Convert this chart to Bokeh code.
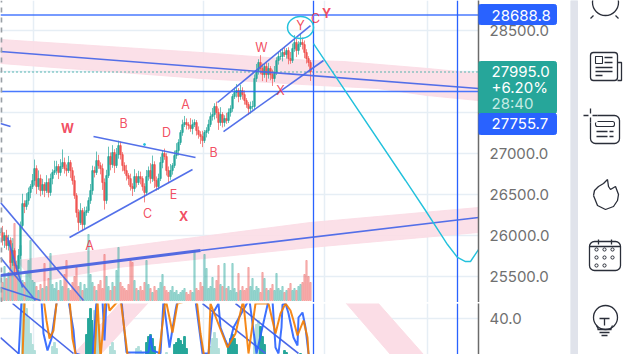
from bokeh.plotting import figure
from bokeh.layouts import row, column
from bokeh.models import Range1d, FixedTicker, PrintfTickFormatter
from bokeh.core.properties import value
from bokeh.embed import file_html
from bokeh.resources import INLINE

FONT = "Inter"
first_index = 0
close = [26037,25938,25999,25877,25938,25670,25816,25633,25596,25755,26121,26389,26353,26426,26524,26597,26670,26816,26597,26694,26548,26621,26548,26646,
26524,26694,26768,26792,26841,26768,26841,26890,26816,26792,26890,26792,26670,26487,26280,26158,26304,26133,26280,26304,
26426,26548,26792,26768,26914,26853,26816,26646,26426,26731,26963,26865,27012,26853,26987,27097,26987,26853,26792,26731,
26694,26597,26572,26719,26646,26719,26694,26597,26524,26719,26792,26694,26865,26670,26597,26694,26890,27000,26963,26792,
26719,26792,26853,26975,27036,27134,27256,27353,27378,27353,27341,27304,27353,27378,27280,27231,27207,27158,27256,27280,
27353,27451,27475,27573,27500,27378,27475,27378,27426,27402,27500,27548,27695,27744,27768,27695,27768,27719,27646,27597,
27548,27573,27573,27914,28012,28110,28036,27963,28061,27963,28036,27963,27914,27987,28134,28183,28183,28232,28207,28256,
28158,28134,28280,28354,28256,28329,28354,28329,28232,28158,28110,27995]
wick_up = [50,80,40,70,70,40,90,30,60,80,50,120,40,90,60,30,80,110,40,100,50,70,30,90,50,60,40,120,70,30,90,160,60,50,80,30,40,60,30,40,90,30,70,50,
40,80,60,50,110,70,40,60,50,70,120,50,90,40,80,60,50,30,40,70,30,60,40,90,40,70,60,30,40,80,50,90,110,40,50,60,70,30,60,40,
50,80,30,60,90,40,30,60,80,50,30,90,60,40,30,50,40,70,30,40,60,50,80,40,60,50,90,30,40,70,50,40,30,60,80,30,70,40,50,30,
30,60,70,50,80,40,90,60,40,50,70,30,60,80,40,60,90,50,70,30,40,80,60,90,50,40,110,60,50,40,30,30]
wick_dn = [40,60,90,50,60,90,40,120,70,50,40,30,80,40,50,70,30,60,90,40,70,50,80,30,60,40,70,30,50,80,40,30,60,70,30,90,50,40,60,100,30,80,50,40,
30,40,50,60,30,40,70,90,110,40,30,70,40,90,30,50,60,70,40,60,80,50,90,40,60,30,70,50,120,30,50,60,40,90,50,40,30,70,40,60,
80,40,50,30,40,60,30,40,30,60,50,40,70,30,60,50,90,80,30,60,40,30,50,60,70,90,40,60,50,40,30,50,40,30,60,70,40,60,50,40,
80,60,40,30,40,50,70,80,40,90,50,70,90,40,30,50,40,60,30,50,70,40,30,40,80,50,30,60,70,60,50,110]
volume = [25,18,34,22,28,40,62,77,35,30,55,20,18,28,40,60,20,18,14,10,16,12,37,14,22,47,16,12,18,10,20,14,26,40,12,10,18,24,33,14,18,10,16,12,
66,26,18,14,10,16,20,12,46,24,14,10,18,14,30,53,18,14,12,10,16,40,38,20,12,10,14,10,18,40,16,12,8,14,10,12,18,26,14,10,
8,10,14,8,10,6,8,10,12,8,6,10,8,50,12,10,18,14,46,32,12,14,23,12,20,35,16,14,37,12,14,10,37,12,8,27,10,14,10,12,
33,14,22,10,14,12,8,28,22,12,10,12,16,10,27,12,10,14,8,10,12,17,10,12,10,14,16,18,26,40,24,18]

price_ticks = [25500,26000,26500,27000,27500,28000,28500]
level_high, level_low, last_price = 28688.8, 27755.7, 27995.0
grid_x = [16.5,101.5,162,213.5]
split_x = [156.5,228.5]

band1_x = [0,100,133.5,155,171.5,213.5,239,239,213.5,188.5,160,100,0]
band1_y = [28390,28232,28171,28134,28122,28037,27976,27646,27707,27793,27829,27915,28098]
band2_x = [8.5,155,239,239,155,58.5,16.5]
band2_y = [25695,26159,26341,26037,25854,25610,25427]

trend_x = [[0,239],[100,239],[46.5,97.5],[34.5,96],[108.5,155],[111.5,161.5],[0,5],[0,41.5],[0,17.5],[0,20],[3.5,11]]
trend_y = [[28244,27793],[25817,26220],[27207,26951],[25976,26805],[27622,28561],[27268,28134],[27366,27329],[26402,25207],[25732,25207],[25366,25207],[25976,25366]]
thick_x, thick_y = [0,100], [25512,25817]
fore_x = [156.5,202.5,212.5,223.5,228.5,232.5,235,239]
fore_y = [28341,26671,26305,25890,25732,25683,25683,25829]

wave_text = ["W","B","D","A","B","W","Y","C","Y","X","E","C","X","A"]
wave_x = [33.5,61.5,83,92.5,106.5,130.5,150,157.5,163,140,86.5,73.5,91.5,44.5]
wave_y = [27305,27366,27256,27598,27012,28293,28561,28646,28707,27768,26500,26268,26232,25878]
wave_style = ["bold","normal","normal","normal","normal","normal","normal","normal","bold","normal","normal","normal","bold","normal"]

blue_x = [9,10.5,20.5,21.5,23.5,25.5,28,29,34,36.5,37.5,46,48,51,52,53,60.5,63,74,75,76,80,81.5,84.5,87.5,88.5,97.5,101,104,106,107,109,110,112.5,114,116.5,124,124.5,128,134,136,137.5,139,140.5,141,142.5,144,146.5,148.5,149,151,152.5,154,155]
blue_y = [0,58,58,25,8,20,55,60,58,28,5,0,58,58,18,58,58,6,6,23,8,5,58,11,48,58,58,5,5,45,48,55,31,18,11,31,58,58,5,58,58,11,5,31,54,55,45,21,13,41,46,31,5,0]
orange_x = [11,12,21.5,23,24.5,26.5,28,28.5,34.5,36,38,47,48.5,50,52.5,53.5,54.5,60,63.5,79,82.5,86,88.5,98,100,102,104,105,113.5,117.5,121,121.5,124,127.5,134,137.5,140,142.5,145,146.5,148.5,151.5,153.5,154,155]
orange_y = [0,60,60,38,20,28,55,60,60,20,0,0,58,0,60,60,48,60,4,0,60,26,55,60,25,0,0,55,11,25,55,55,5,55,55,25,45,55,48,38,23,38,21,5,0]
hist_x = [11,12,13,14,15,16,17,26,27,28,43,44,45,46,47,48,49,50,55,56,57,68,69,70,71,73,74,75,76,77,83,87,88,89,90,91,92,93,105,106,107,108,109,114,115,116,117,118,127,128,129,130,131,132,142,143,150]
hist_v = [55,55,50,40,25,14,8,12,16,10,24,40,50,38,48,44,34,18,12,16,8,10,12,8,6,16,22,24,20,12,6,14,16,20,18,14,22,10,12,20,26,20,10,14,20,24,20,14,24,34,38,32,22,14,8,6,5]
hist_dark = [0,0,0,0,0,0,0,0,0,0,1,1,1,1,0,0,0,0,0,0,0,0,0,0,0,1,1,1,1,1,0,1,1,1,1,1,1,1,0,0,0,0,0,1,1,1,1,1,0,0,0,1,1,1,1,1,1]
osc_tick = [40]
pink3_x, pink3_y = [60,74,50,36.5], [56,56,4,4]
pink4_x, pink4_y = [172.5,188.5,211.5,195], [56,56,4,4]
osc_line_x = [[6,36.5],[0,9],[101,132.5],[117.5,149]]
osc_line_y = [[55,5],[21,5],[55,5],[55,5]]
badge_top = [28817, 28122, 27488]
badge_bottom = [28573, 27488, 27232]
badge_label = [f"{level_high:.1f}", f"{last_price:.1f}", "+6.20%", "28:40", f"{level_low:.1f}"]
badge_label_y = [level_high, last_price, 27805, 27610, 27365]

BLUE, TEAL, RED = "#2962ff", "#26a69a", "#ef5350"
idx = [first_index + i for i in range(len(close))]
opens = [close[0]] + close[:-1]
highs = [max(o, c) + w for o, c, w in zip(opens, close, wick_up)]
lows = [min(o, c) - w for o, c, w in zip(opens, close, wick_dn)]
cols = [TEAL if c >= o else RED for o, c in zip(opens, close)]

x_range = Range1d(0, 239)
price_range = Range1d(25183, 28866)

def style_panel(f, ticks):
    f.xaxis.visible = False
    f.yaxis.ticker = FixedTicker(ticks=ticks)
    f.yaxis.formatter = PrintfTickFormatter(format="%.1f")
    f.yaxis.major_label_text_font = FONT
    f.yaxis.major_label_text_font_size = "15px"
    f.yaxis.major_label_text_color = "#707070"
    f.yaxis.major_label_standoff = 5
    f.yaxis.major_tick_line_color = None
    f.yaxis.minor_tick_line_color = None
    f.yaxis.axis_line_color = "#6b6b6b"
    f.yaxis.axis_line_width = 1.5
    f.xgrid.ticker = FixedTicker(ticks=grid_x)
    f.xgrid.grid_line_color = "#e6eef5"
    f.xgrid.grid_line_width = 1.5
    f.ygrid.grid_line_color = "#e6eef5"
    f.ygrid.grid_line_width = 1.5

p = figure(width=570, height=302, x_range=x_range, y_range=price_range, y_axis_location="right",
           output_backend="svg", toolbar_location=None, min_border_left=0, min_border_top=0, min_border_bottom=0,
           min_border_right=92, outline_line_color=None)
style_panel(p, price_ticks)
p.yaxis.major_label_overrides = {27500: "", 28000: ""}

p.patch(band1_x, band1_y, color="#fbdde6", alpha=0.9)
p.patch(band2_x, band2_y, color="#fbdde6", alpha=0.9)

vol_range_name = "vol"
p.extra_y_ranges = {vol_range_name: Range1d(-2, 300)}
p.vbar(idx, top=volume, bottom=0, width=0.7, color=cols, alpha=0.36, y_range_name=vol_range_name)

p.segment(idx, lows, idx, highs, color=cols, line_width=1, alpha=0.7)
p.vbar(idx, top=[max(a, b) for a, b in zip(opens, close)], bottom=[min(a, b) for a, b in zip(opens, close)],
       width=0.65, color=cols, alpha=0.9)

p.line([0, 239], [last_price, last_price], color=TEAL, line_dash="1 3", line_width=1.5)
for lv in (level_high, level_low):
    p.line([0, 239], [lv, lv], color=BLUE, line_width=1.5, alpha=0.85)
for sx in split_x:
    p.line([sx, sx], [25183, 28866], color=BLUE, line_width=1.3)

p.multi_line(trend_x, trend_y, color="#4a68e8", line_width=1.6, alpha=0.95)
p.line(thick_x, thick_y, color="#4a63e0", line_width=3, alpha=0.95)
p.line(fore_x, fore_y, color="#22c1dc", line_width=1.4)
p.ellipse([150], [28537], width=13, height=268, fill_color=None, line_color="#22c1dc", line_width=1.5)
p.scatter([72], [27110], size=2, color="#22c1dc")
p.line([0.4, 0.4], [25183, 28866], color="#9aa0a6", line_width=2, line_dash="5 5")

p.text(wave_x, wave_y, text=wave_text, text_color="#f0394f", text_font=value(FONT), text_font_size="12.5px",
       text_font_style=wave_style, text_align="center", text_baseline="middle", text_alpha=0.9)

# price tags sit on the scale, in a transparent panel laid over the axis
tag = figure(width=92, height=302, x_range=Range1d(478, 570), y_range=price_range, output_backend="svg",
             toolbar_location=None, min_border=0, outline_line_color=None, background_fill_color=None,
             border_fill_color=None, margin=(0, 0, 0, -92))
tag.axis.visible = False
tag.grid.visible = False
tag.quad(left=[478] * 3, right=[556] * 3, top=badge_top, bottom=badge_bottom, color=[BLUE, TEAL, BLUE], border_radius=2)
tag.text([491] * 5, badge_label_y, text=badge_label, text_color=["#ffffff", "#ffffff", "#ffffff", "#c4ebe4", "#ffffff"],
         text_font=value(FONT), text_font_size="15px", text_baseline="middle")

divider = figure(width=570, height=1, x_range=Range1d(0, 1), y_range=Range1d(0, 1), output_backend="svg", toolbar_location=None,
                 min_border=0, background_fill_color="#e0e3eb", border_fill_color="#e0e3eb", outline_line_color=None)
divider.axis.visible = False
divider.grid.visible = False

q = figure(width=570, height=51, x_range=x_range, y_range=Range1d(4, 55), y_axis_location="right",
           output_backend="svg", toolbar_location=None, min_border_left=0, min_border_top=0, min_border_bottom=0,
           min_border_right=92, outline_line_color=None)
style_panel(q, osc_tick)
q.patch(pink3_x, pink3_y, color="#fbdde6")
q.patch(pink4_x, pink4_y, color="#fbdde6")
q.vbar(hist_x, top=hist_v, bottom=0, width=0.9, color=[TEAL if d else "#b2dfdb" for d in hist_dark])
for sx in split_x:
    q.line([sx, sx], [4, 55], color=BLUE, line_width=1.3)
q.multi_line(osc_line_x, osc_line_y, color="#4a68e8", line_width=1.6)
q.line(blue_x, blue_y, color=BLUE, line_width=2, alpha=0.9)
q.line(orange_x, orange_y, color="#f57c00", line_width=2, alpha=0.9)

s = figure(width=60, height=354, x_range=Range1d(570, 630), y_range=Range1d(354, 0), output_backend="svg",
           toolbar_location=None, min_border=0, outline_line_color=None)
s.axis.visible = False
s.grid.visible = False
INK = "#2a2e39"
s.quad(left=[570], right=[577], top=[0], bottom=[354], color="#e0e3eb")
s.ellipse([605, 605], [2, 317], width=[26, 24], height=[26, 24], fill_color=None, line_color=INK, line_width=1.3)
s.quad(left=[590], right=[617], top=[52], bottom=[80], fill_color=None, line_color=INK, line_width=1.3, border_radius=3)
s.quad(left=[590], right=[619], top=[115], bottom=[143], fill_color=None, line_color=INK, line_width=1.3, border_radius=5)
s.quad(left=[589], right=[620], top=[241], bottom=[270], fill_color=None, line_color=INK, line_width=1.3, border_radius=5)
s.quad(left=[595], right=[602], top=[56], bottom=[63], fill_color=None, line_color=INK, line_width=1.1)
s.quad(left=[595], right=[614], top=[121], bottom=[126], fill_color=None, line_color=INK, line_width=1.1, border_radius=2)
s.quad(left=[583], right=[597], top=[108], bottom=[122], fill_color="#ffffff", line_color=None)
icon_x = [[593,590],[615,618],[617,621,621,617],[604,612],[604,612],[595,612],[595,612],[595,602],
          [583,588],[592,597],[590,590],[590,590],[596,607],[609,613],[596,607],[609,613],
          [593,594,598,603,607,608,610,615,618,617,613,605,597,593],[598,598],[611,611],[589,620],
          [597,611],[599,609],[601,607],[599,609],[604,604],[596,598],[612,610]]
icon_y = [[15,18],[15,18],[62,62,80,80],[57,57],[62,62],[67,67],[71,71],[75,75],
          [115,115],[115,115],[108,113],[117,122],[131,131],[131,131],[136,136],[136,136],
          [195,190,186,183,179,186,189,186,194,200,206,209,205,195],[239,244],[239,244],[246,246],
          [329,329],[332,332],[335,335],[318,318],[318,325],[325,329],[325,329]]
s.multi_line(icon_x, icon_y, color=INK, line_width=1.3)
dot_x = [596,604,612,596,604,612,596,604]
dot_y = [249,249,249,257,257,257,265,265]
s.circle(dot_x, dot_y, radius=1.6, fill_color=None, line_color=INK, line_width=1)

layout = row(column(row(p, tag, spacing=0), divider, q, spacing=0), s, spacing=0)
open("out.html", "w").write(file_html(layout, INLINE))
